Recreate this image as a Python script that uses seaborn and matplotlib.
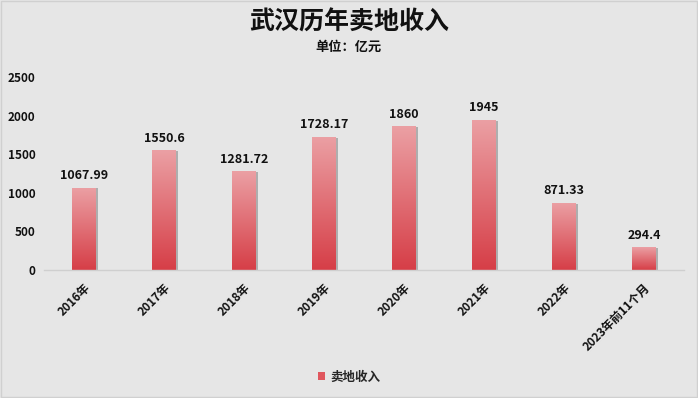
import numpy as np
import pandas as pd
import matplotlib
matplotlib.use("Agg")
import matplotlib.pyplot as plt
import seaborn as sns
from matplotlib.colors import LinearSegmentedColormap
from matplotlib.patches import Rectangle

categories = ["2016年", "2017年", "2018年", "2019年", "2020年", "2021年", "2022年", "2023年前11个月"]
values = [1067.99, 1550.6, 1281.72, 1728.17, 1860, 1945, 871.33, 294.4]
value_labels = ["1067.99", "1550.6", "1281.72", "1728.17", "1860", "1945", "871.33", "294.4"]
yticks = [0, 500, 1000, 1500, 2000, 2500]
series_name = "卖地收入"

sns.set_theme(style="white")
plt.rcParams['font.family'] = ['Noto Sans CJK SC', 'DejaVu Sans']

bg = "#E6E6E6"
fig = plt.figure(figsize=(6.98, 3.98), dpi=100, facecolor=bg)
ax = fig.add_axes([44/698, 128/398, 640/698, 193/398])
ax.set_facecolor(bg)

df = pd.DataFrame({"cat": categories, "val": values})
sns.barplot(data=df, x="cat", y="val", ax=ax, width=0.29, color="#D6414A", zorder=3)

cmap = LinearSegmentedColormap.from_list("g", ["#D63E47", "#EBA0A4"])
grad = np.linspace(0, 1, 256).reshape(-1, 1)
for p, lab in zip(ax.patches, value_labels):
    x0, w, h = p.get_x(), p.get_width(), p.get_height()
    # shadow
    sh = Rectangle((x0 + 0.035, 0), w, h - 12, facecolor="#8A8A8A", alpha=0.6,
                   edgecolor="none", zorder=2)
    ax.add_patch(sh)
    p.set_facecolor("none")
    p.set_edgecolor("none")
    im = ax.imshow(grad, cmap=cmap, origin="lower", aspect="auto",
                   extent=[x0, x0 + w, 0, h], zorder=3, vmin=0, vmax=1)
    im.set_clip_path(p)
    ax.text(x0 + w / 2, h + 70, lab, ha="center", va="bottom", fontsize=9,
            fontweight="bold", color="#111111", zorder=4)

ax.set_xlim(-0.5, 7.5)
ax.set_ylim(0, 2500)
ax.set_yticks(yticks)
ax.set_yticklabels([str(t) for t in yticks], fontsize=8.5, fontweight="bold", color="#111111")
ax.set_xticks(range(len(categories)))
ax.set_xticklabels(categories, rotation=45, ha="right", rotation_mode="anchor",
                   fontsize=8.5, fontweight="bold", color="#111111")
ax.tick_params(axis="y", length=0, pad=6)
ax.tick_params(axis="x", length=0, pad=8)
ax.set_xlabel("")
ax.set_ylabel("")
for s in ["top", "right", "left"]:
    ax.spines[s].set_visible(False)
ax.spines["bottom"].set_color("#CFCFCF")
ax.spines["bottom"].set_linewidth(1)
ax.spines["bottom"].set_zorder(5)

fig.text(0.5, 1 - 22/398, "武汉历年卖地收入", ha="center", va="center",
         fontsize=18, fontweight="bold", color="#111111")
fig.text(0.5, 1 - 47/398, "单位：亿元", ha="center", va="center",
         fontsize=9.5, fontweight="bold", color="#111111")

handle = Rectangle((0, 0), 1, 1, facecolor="#E0575E", edgecolor="none")
fig.legend([handle], [series_name], loc="center", bbox_to_anchor=(0.5, 1 - 377/398),
           frameon=False, prop={"size": 9, "weight": "bold"},
           handlelength=0.6, handleheight=0.6, handletextpad=0.4)

fig.add_artist(Rectangle((0.002, 0.002), 0.996, 0.996, transform=fig.transFigure,
                         fill=False, edgecolor="#D0D0D0", linewidth=1))

fig.savefig("out.png", dpi=100, facecolor=bg)
